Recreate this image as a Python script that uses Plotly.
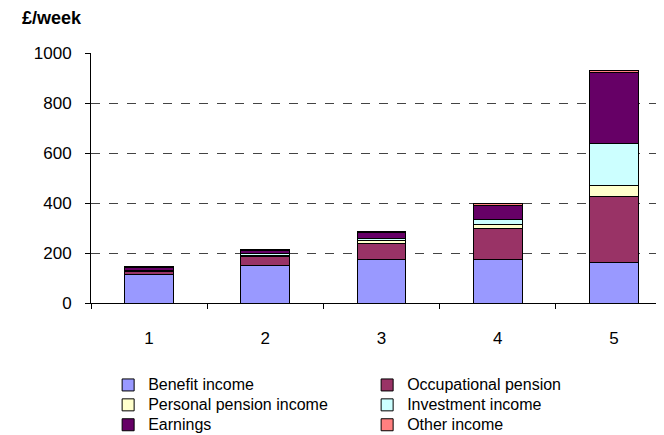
import plotly.graph_objects as go

categories = [1, 2, 3, 4, 5]
tick_labels = ["1", "2", "3", "4", "5"]
benefit = [113, 152, 174, 176, 164]
occupational = [12, 34, 65, 123, 262]
personal = [3, 5, 10, 17, 45]
investment = [3, 7, 10, 20, 167]
earnings = [12, 12, 22, 56, 285]
other = [2, 3, 5, 7, 8]

series = [
    ("Benefit income", benefit, "#9999FF"),
    ("Occupational pension", occupational, "#993366"),
    ("Personal pension income", personal, "#FFFFCC"),
    ("Investment income", investment, "#CCFFFF"),
    ("Earnings", earnings, "#660066"),
    ("Other income", other, "#FF8080"),
]

fig = go.Figure()
for name, vals, col in series:
    fig.add_trace(go.Bar(
        x=categories, y=vals,
        name='<span style="font-size:16px">' + name + '</span>',
        hovertext=name,
        marker=dict(color=col, line=dict(color="black", width=1)),
        width=0.42,
    ))

fig.update_layout(
    barmode="stack",
    width=656, height=427,
    margin=dict(l=83, r=2, t=45, b=132, autoexpand=False),
    paper_bgcolor="white", plot_bgcolor="white",
    font=dict(family="Liberation Sans, Arial", size=17, color="black"),
    showlegend=True,
    legend=dict(
        orientation="h", x=0.03, y=-0.268, xanchor="left", yanchor="top",
        entrywidth=214, entrywidthmode="pixels",
        font=dict(size=13), traceorder="normal",
        itemwidth=30, tracegroupgap=0,
    ),
    annotations=[dict(
        text="<b>£/week</b>", xref="paper", yref="paper",
        x=-0.124, y=1.14, xanchor="left", yanchor="middle",
        showarrow=False, font=dict(size=18),
    )],
)

fig.update_xaxes(
    range=[0.5, 5.414], tickvals=categories, ticktext=tick_labels,
    ticks="", showline=True, linecolor="black", linewidth=1,
    showgrid=False, zeroline=False, ticklabelstandoff=20,
    minor=dict(tick0=0.5, dtick=1, ticks="outside", ticklen=5, tickcolor="black", showgrid=False),
)
fig.update_yaxes(
    range=[0, 1000], dtick=200, ticks="outside", ticklen=5, tickcolor="black",
    showline=True, linecolor="black", linewidth=1,
    showgrid=True, gridcolor="#444444", griddash="dash", gridwidth=1,
    zeroline=False, ticklabelstandoff=10,
)

fig.write_html("out.html")
